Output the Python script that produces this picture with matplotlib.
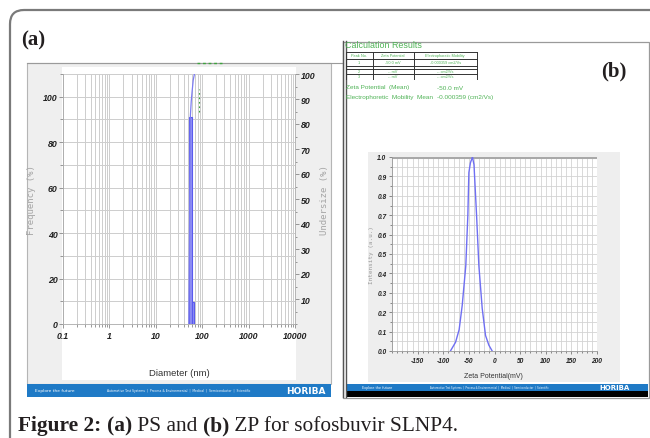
import numpy as np
import matplotlib
matplotlib.use("Agg")
import matplotlib.pyplot as plt
from matplotlib.patches import Rectangle, FancyBboxPatch
from matplotlib.ticker import FixedLocator, MultipleLocator, NullFormatter

# ---- data: (a) particle size, (b) zeta potential ----
freq_edges = [51.5, 59.0, 67.5]          # nm, bin edges
freq_vals = [91.0, 9.8]                  # %
undersize_d = [51.5, 55.7, 58.0, 60.6, 64.0, 68.0]
undersize_v = [0.0, 83.5, 89.0, 93.0, 97.5, 100.0]
median_mark = 86.0                       # green dotted marker

zeta_mv = [-86, -76, -69, -63, -56, -52, -50, -47, -43, -40, -35, -30.5, -24, -17.5, -11, -4.5]
zeta_int = [0.0, 0.045, 0.11, 0.235, 0.44, 0.70, 0.92, 0.97, 1.0, 0.96, 0.70, 0.44, 0.22, 0.08, 0.03, 0.0]

size_ticks = [0.1, 1, 10, 100, 1000, 10000]
size_labels = ["0.1", "1", "10", "100", "1000", "10000"]
zeta_ticks = [-150, -100, -50, 0, 50, 100, 150, 200]

table_head = ["Peak No.", "Zeta Potential", "Electrophoretic Mobility"]
table_rows = [["1", "-50.0 mV", "-0.000359 cm2/Vs"],
              ["2", "-- mV", "-- cm2/Vs"],
              ["3", "-- mV", "-- cm2/Vs"]]
zeta_mean = "-50.0 mV"
mob_mean = "-0.000359 (cm2/Vs)"

W, H = 650, 439
fig = plt.figure(figsize=(W / 100, H / 100), dpi=100)


def box(x0, y0, x1, y1):
    return [x0 / W, 1 - y1 / H, (x1 - x0) / W, (y1 - y0) / H]


narrow = ["Liberation Sans Narrow", "Liberation Sans", "DejaVu Sans"]
serif = ["Liberation Serif", "DejaVu Serif"]
blue = "#1f7ac6"
green = "#4fb356"

# background canvas in pixel coordinates
bg = fig.add_axes([0, 0, 1, 1])
bg.set_xlim(0, W)
bg.set_ylim(H, 0)
bg.axis("off")

bg.add_patch(FancyBboxPatch((10, 11), 700, 500, boxstyle="round,pad=0,rounding_size=14",
                            fc="white", ec="#7a7a7a", lw=1.6))

# panel (a) frame
bg.add_patch(Rectangle((27, 64), 304, 321, fc="#efefef", ec="#b5b5b5", lw=0.8))
bg.add_patch(Rectangle((62, 68), 234, 313, fc="white", ec="none"))
bg.plot([27, 343], [63.5, 63.5], color="#9a9a9a", lw=0.8)
bg.plot([197, 222], [64, 64], color="#3da33d", lw=1, ls=(0, (2, 2)))
bg.add_patch(Rectangle((27, 385), 304, 13, fc=blue, ec="none"))
bg.text(35, 391.5, "Explore the future", color="white", fontsize=3.2, va="center")
bg.text(107, 391.5, "Automotive Test Systems  |  Process & Environmental  |  Medical  |  Semiconductor  |  Scientific",
        color="white", fontsize=2.2, va="center")
bg.text(306, 391.5, "HORIBA", color="white", fontsize=6.5, fontweight="bold", va="center", ha="center")

# panel (b) frame
bg.add_patch(Rectangle((343, 42.5), 306, 356, fc="white", ec="#9a9a9a", lw=0.9))
bg.plot([343, 343], [42, 398], color="#555555", lw=1)
bg.plot([346, 346], [42, 398], color="#555555", lw=1)
bg.add_patch(Rectangle((368, 153), 252, 230, fc="#eeeeee", ec="none"))
bg.add_patch(Rectangle((347, 385), 301, 7, fc=blue, ec="none"))
bg.add_patch(Rectangle((347, 392), 301, 6, fc="black", ec="none"))
bg.text(362, 388.5, "Explore the future", color="white", fontsize=2.4, va="center")
bg.text(430, 388.5, "Automotive Test Systems  |  Process & Environmental  |  Medical  |  Semiconductor  |  Scientific",
        color="white", fontsize=1.8, va="center")
bg.text(615, 388.5, "HORIBA", color="white", fontsize=5, fontweight="bold", va="center", ha="center")

# calculation results block
bg.text(345, 45.5, "Calculation Results", color=green, fontsize=6.4, va="center", family=narrow)
col_x = [346, 372.5, 413.5, 477]
for y in [53, 59.5, 67, 69.5, 74.5]:
    bg.plot([col_x[0], col_x[-1]], [y, y], color="#333333", lw=0.7)
for x in col_x:
    bg.plot([x, x], [53, 80], color="#333333", lw=0.7)
row_y = [56.2, 63.2, 71.8, 77.5]
for j, h in enumerate(table_head):
    bg.text((col_x[j] + col_x[j + 1]) / 2, row_y[0], h, color=green, fontsize=2.8,
            ha="center", va="center", family=narrow)
for i, row in enumerate(table_rows):
    for j, s in enumerate(row):
        bg.text((col_x[j] + col_x[j + 1]) / 2, row_y[i + 1], s, color=green, fontsize=2.8,
                ha="center", va="center", family=narrow)
bg.text(346, 88, "Zeta Potential  (Mean)", color=green, fontsize=4.6, va="center", family=narrow)
bg.text(437, 88, zeta_mean, color=green, fontsize=4.6, va="center", family=narrow)
bg.text(346, 97.5, "Electrophoretic  Mobility  Mean", color=green, fontsize=4.6, va="center", family=narrow)
bg.text(437, 97.5, mob_mean, color=green, fontsize=4.6, va="center", family=narrow)

# panel labels
bg.text(21, 40, "(a)", fontsize=15, fontweight="bold", family=serif, va="center", color="#231f20")
bg.text(601, 71, "(b)", fontsize=15, fontweight="bold", family=serif, va="center", color="#231f20")

# ---- (a) particle size distribution ----
ax = fig.add_axes(box(63, 75, 295, 325))
ax.set_xscale("log")
ax.set_xlim(0.1, 10000)
ax.set_ylim(0, 110)
ax.set_facecolor("white")
ax.xaxis.set_major_locator(FixedLocator(size_ticks))
ax.xaxis.set_minor_locator(matplotlib.ticker.LogLocator(base=10, subs=np.arange(2, 10)))
ax.xaxis.set_minor_formatter(NullFormatter())
ax.set_xticklabels(size_labels)
ax.set_yticks([0, 20, 40, 60, 80, 100])
ax.yaxis.set_minor_locator(MultipleLocator(10))
ax.grid(True, which="both", axis="x", color="#cdcdcd", lw=0.7)
ax.grid(True, which="both", axis="y", color="#cdcdcd", lw=0.7)
ax.set_axisbelow(True)
for s in ["top", "right"]:
    ax.spines[s].set_visible(False)
ax.spines["left"].set_color("#aaaaaa")
ax.spines["bottom"].set_color("#aaaaaa")
ax.spines["left"].set_linewidth(0.6)
ax.spines["bottom"].set_linewidth(0.6)
ax.tick_params(which="both", color="#888888", width=0.6)
ax.tick_params(which="major", length=3)
ax.tick_params(which="minor", length=2)
ax.tick_params(axis="x", pad=2)
ax.tick_params(axis="y", pad=1)
for lab in ax.get_xticklabels() + ax.get_yticklabels():
    lab.set_family(narrow)
    lab.set_fontsize(6.3)
    lab.set_fontweight("bold")
    lab.set_fontstyle("italic")
    lab.set_color("#222222")

widths = np.diff(freq_edges)
ax.bar(freq_edges[:-1], freq_vals, width=widths, align="edge",
       fc="#8f8ff4", ec="#5a5aee", lw=0.8, zorder=3)

ax2 = ax.twinx()
ax2.set_ylim(0, 100)
ax2.set_yticks(np.arange(10, 101, 10))
ax2.yaxis.set_minor_locator(MultipleLocator(5))
for s in ["top", "left", "bottom"]:
    ax2.spines[s].set_visible(False)
ax2.spines["right"].set_color("#aaaaaa")
ax2.spines["right"].set_linewidth(0.6)
ax2.tick_params(which="both", color="#888888", width=0.6, pad=1)
ax2.tick_params(which="major", length=3)
ax2.tick_params(which="minor", length=1.5)
for lab in ax2.get_yticklabels():
    lab.set_family(narrow)
    lab.set_fontsize(6.3)
    lab.set_fontweight("bold")
    lab.set_fontstyle("italic")
    lab.set_color("#222222")
ax2.plot(undersize_d, undersize_v, color="#7b7bf2", lw=0.9, zorder=4)
ax2.plot([median_mark, median_mark], [85, 94], color="#3da33d", lw=0.8, ls=(0, (1.5, 2.5)))

fig.text(31 / W, 1 - 200 / H, "Frequency (%)", rotation=90, family="DejaVu Sans Mono",
         fontsize=6.5, color="#a5a5a5", ha="center", va="center")
fig.text(325 / W, 1 - 200 / H, "Undersize (%)", rotation=90, family="DejaVu Sans Mono",
         fontsize=6.5, color="#a5a5a5", ha="center", va="center")
fig.text(179 / W, 1 - 373 / H, "Diameter (nm)", family=narrow, fontsize=6.8,
         color="#333333", ha="center", va="center")

# ---- (b) zeta potential distribution ----
bx = fig.add_axes(box(392, 158, 597, 352))
bx.set_xlim(-200, 200)
bx.set_ylim(0, 1)
bx.set_facecolor("white")
bx.set_xticks(zeta_ticks)
bx.set_xticklabels([str(t) for t in zeta_ticks])
bx.xaxis.set_minor_locator(MultipleLocator(10))
bx.set_yticks(np.round(np.arange(0, 1.01, 0.1), 1))
bx.set_yticklabels(["%.1f" % v for v in np.arange(0, 1.01, 0.1)])
bx.yaxis.set_minor_locator(MultipleLocator(0.05))
bx.grid(True, which="both", color="#d3d3d3", lw=0.6)
bx.set_axisbelow(True)
for s in ["top", "right"]:
    bx.spines[s].set_visible(False)
bx.spines["left"].set_color("#999999")
bx.spines["bottom"].set_color("#999999")
bx.spines["left"].set_linewidth(0.6)
bx.spines["bottom"].set_linewidth(0.6)
bx.axhline(1.0, color="#a8a8a8", lw=2.2, zorder=2)
bx.tick_params(which="both", color="#777777", width=0.6, pad=1.5)
bx.tick_params(which="major", length=2.5)
bx.tick_params(which="minor", length=1.2)
for lab in bx.get_xticklabels() + bx.get_yticklabels():
    lab.set_family(narrow)
    lab.set_fontsize(4.8)
    lab.set_fontweight("bold")
    lab.set_fontstyle("italic")
    lab.set_color("#222222")
bx.plot(zeta_mv, zeta_int, color="#6f6ff2", lw=1.0, zorder=4)

fig.text(372 / W, 1 - 255 / H, "Intensity (a.u.)", rotation=90, family="DejaVu Sans Mono",
         fontsize=4.3, color="#999999", ha="center", va="center")
fig.text(493 / W, 1 - 377 / H, "Zeta Potential(mV)", family=narrow, fontsize=5,
         color="#333333", ha="center", va="center")

# ---- caption with mixed weights ----
renderer = fig.canvas.get_renderer()
parts = [("Figure 2: ", "bold"), ("(a)", "bold"), (" PS and ", "normal"),
         ("(b)", "bold"), (" ZP for sofosbuvir SLNP4.", "normal")]
x = 18
for s, wt in parts:
    t = bg.text(x, 431.5, s, family=serif, fontsize=15.4, fontweight=wt,
                color="#231f20", va="baseline", ha="left")
    x += t.get_window_extent(renderer).width

fig.savefig("out.png", dpi=100)
